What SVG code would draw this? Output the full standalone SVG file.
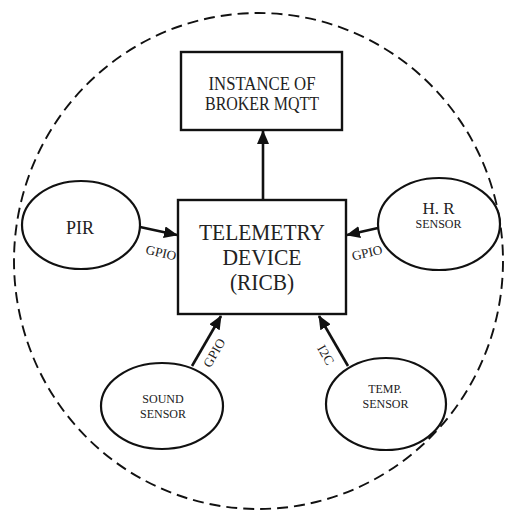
<svg xmlns="http://www.w3.org/2000/svg" width="506" height="511" viewBox="0 0 506 511">
<style>
.bg{fill:#fff}
.box{fill:#fff;stroke:#111;stroke-width:2.4}
.ell{fill:#fff;stroke:#111;stroke-width:2.2}
.boundary{fill:none;stroke:#111;stroke-width:1.9;stroke-dasharray:11 6}
.conn{stroke:#111;stroke-width:2.6;fill:none}
text{font-family:"Liberation Serif","Times New Roman","DejaVu Serif",serif;fill:#222;text-anchor:middle}
.t24{font-size:24px}
.t18{font-size:18px}
.t17{font-size:17px}
.t12{font-size:12px}
.lbl{font-size:13px}
</style>
<defs>
<marker id="ah" markerWidth="14" markerHeight="12" refX="13" refY="6" orient="auto" markerUnits="userSpaceOnUse">
<path d="M0,0 L14,6 L0,12 Z" fill="#111"/>
</marker>
</defs>
<rect class="bg" x="0" y="0" width="506" height="511"/>
<ellipse id="boundary" class="boundary" cx="258.5" cy="261" rx="244.5" ry="248"/>
<g id="connectors">
<line class="conn" x1="263" y1="199" x2="263" y2="131" marker-end="url(#ah)"/>
<line class="conn" x1="140" y1="227" x2="177" y2="235" marker-end="url(#ah)"/>
<line class="conn" x1="378" y1="228" x2="347" y2="235" marker-end="url(#ah)"/>
<line class="conn" x1="192" y1="366" x2="221" y2="316" marker-end="url(#ah)"/>
<line class="conn" x1="348" y1="366" x2="319" y2="316" marker-end="url(#ah)"/>
<text class="lbl" transform="translate(160,257) rotate(13)" textLength="31" lengthAdjust="spacingAndGlyphs">GPIO</text>
<text class="lbl" transform="translate(368,257) rotate(-13)" textLength="31" lengthAdjust="spacingAndGlyphs">GPIO</text>
<text class="lbl" transform="translate(218,355) rotate(-60)" textLength="31" lengthAdjust="spacingAndGlyphs">GPIO</text>
<text class="lbl" transform="translate(322,357) rotate(60)" textLength="21" lengthAdjust="spacingAndGlyphs">I2C</text>
</g>
<g id="broker">
<rect class="box" x="181" y="52" width="161" height="78"/>
<text class="t18" x="262" y="90" textLength="107" lengthAdjust="spacingAndGlyphs">INSTANCE OF</text>
<text class="t18" x="262" y="110" textLength="114" lengthAdjust="spacingAndGlyphs">BROKER MQTT</text>
</g>
<g id="telemetry">
<rect class="box" x="178" y="200" width="168" height="114"/>
<text class="t24" x="262" y="240" textLength="126" lengthAdjust="spacingAndGlyphs">TELEMETRY</text>
<text class="t24" x="262" y="265" textLength="79" lengthAdjust="spacingAndGlyphs">DEVICE</text>
<text class="t24" x="262" y="290" textLength="64" lengthAdjust="spacingAndGlyphs">(RICB)</text>
</g>
<g id="pir">
<ellipse class="ell" cx="81" cy="225" rx="59" ry="44"/>
<text class="t18" x="80" y="234">PIR</text>
</g>
<g id="hr">
<ellipse class="ell" cx="439" cy="224" rx="61" ry="46"/>
<text class="t17" x="438.5" y="214">H. R</text>
<text class="t12" x="438.5" y="228">SENSOR</text>
</g>
<g id="sound">
<ellipse class="ell" cx="162" cy="406" rx="61" ry="43"/>
<text class="t12" x="163" y="403">SOUND</text>
<text class="t12" x="163" y="418">SENSOR</text>
</g>
<g id="temp">
<ellipse class="ell" cx="386" cy="404" rx="60" ry="46"/>
<text class="t12" x="385" y="393">TEMP.</text>
<text class="t12" x="385.5" y="408">SENSOR</text>
</g>
</svg>
